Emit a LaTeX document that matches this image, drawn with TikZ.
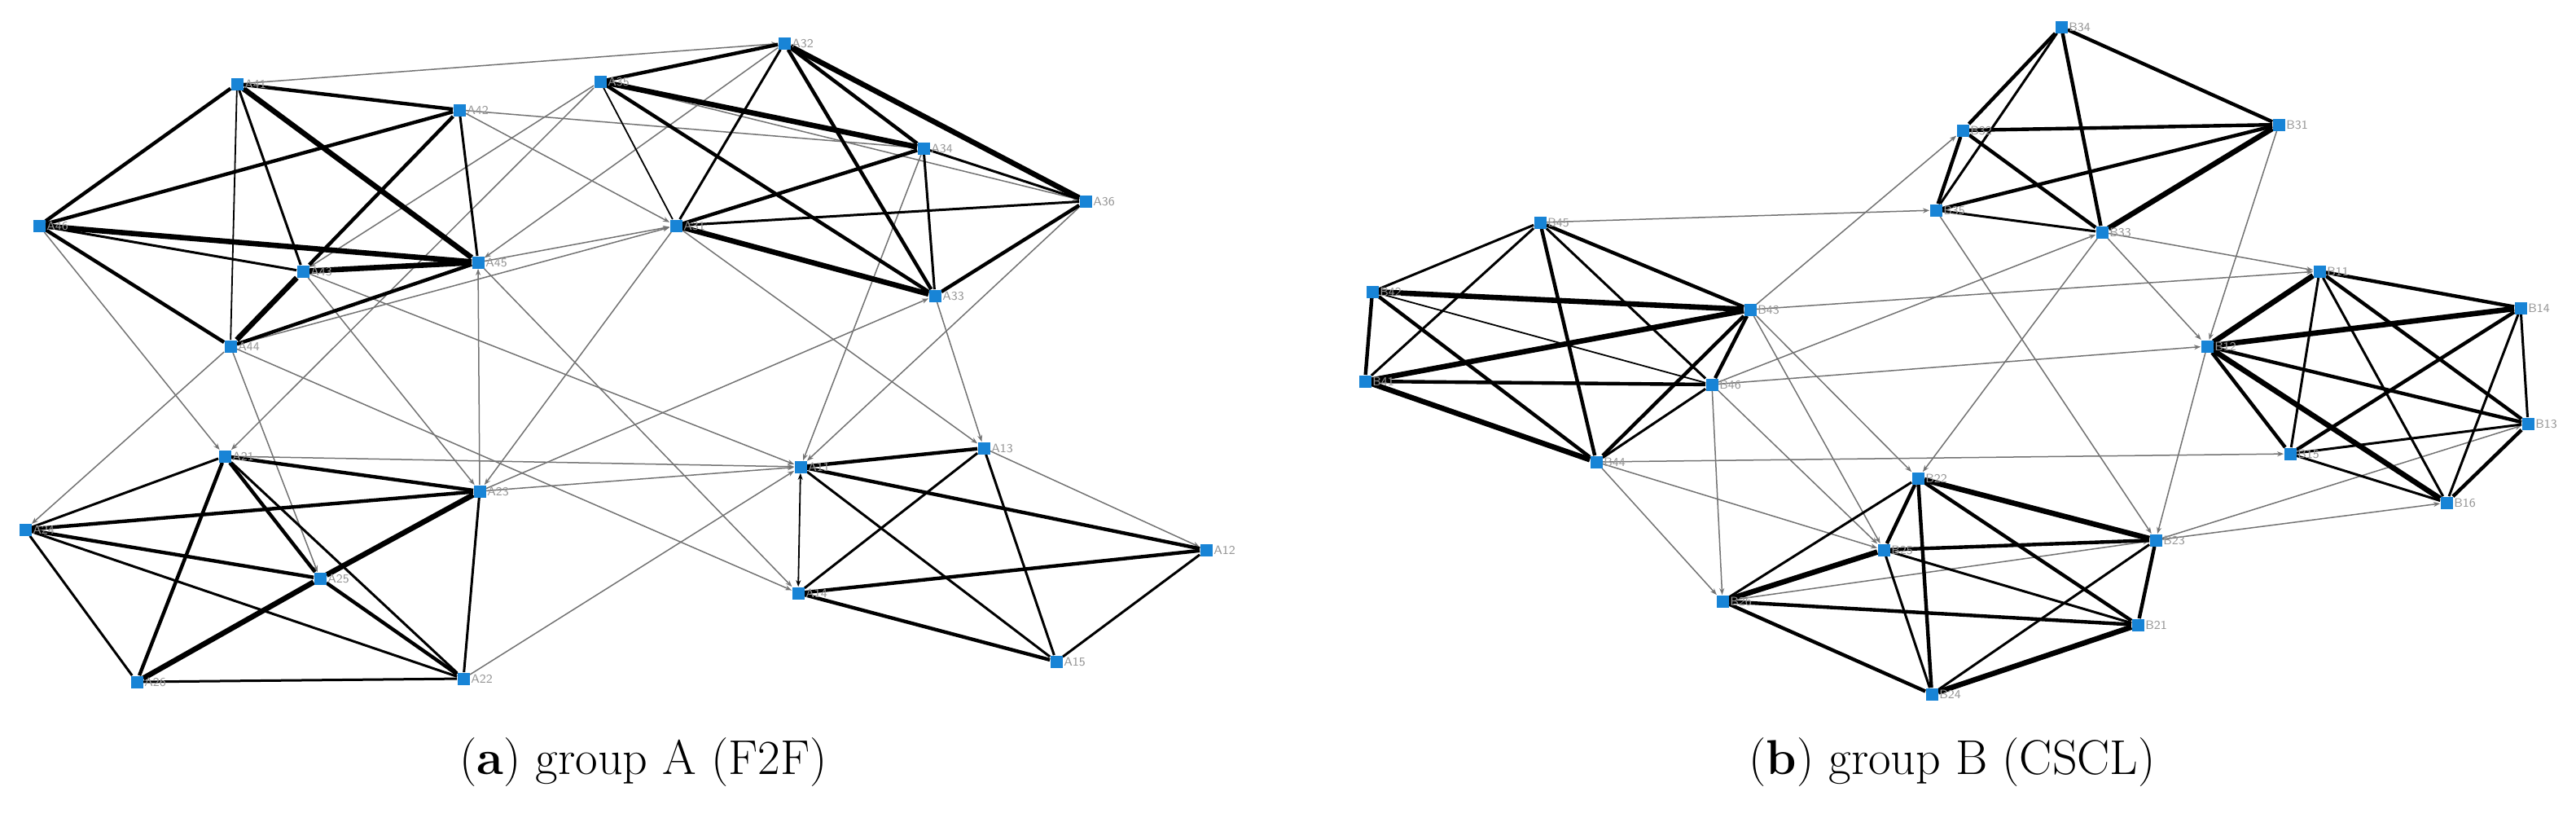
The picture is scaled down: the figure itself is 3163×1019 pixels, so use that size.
\documentclass[tikz,border=0pt]{standalone}
\usetikzlibrary{arrows.meta}
\definecolor{nodeblue}{RGB}{24,132,214}
\definecolor{lblgray}{RGB}{150,150,150}
\pgfdeclarelayer{bg}
\pgfsetlayers{bg,main}
\begin{document}
\begin{tikzpicture}[x=0.5pt,y=-0.5pt,
  nd/.style={rectangle,fill=nodeblue,draw=none,minimum size=7.5pt,inner sep=0pt},
  lbl/.style={text=lblgray,font=\fontsize{7.5}{8}\selectfont\sffamily,inner sep=1pt,xshift=-0.5pt},
  e1/.style={draw=black!55,line width=0.75pt,-{Stealth[length=4pt,width=3pt]}},
  e2/.style={draw=black,line width=0.9pt},
  e3/.style={draw=black,line width=1.5pt},
  e4/.style={draw=black,line width=2.2pt},
  e5/.style={draw=black,line width=3.3pt},
  captxt/.style={font=\fontsize{30}{36}\selectfont,anchor=center}]
\useasboundingbox (0,0) rectangle (3163,1019);
\foreach \n/\x/\y in {A41/291/103, A42/564/135, A35/737/100, A32/963/53, A34/1134/182, A36/1333/247, A31/830/277, A46/48/277, A43/372/333, A45/587/322, A33/1148/363, A44/283/425, A21/276/560, A23/589/603, A24/31/650, A25/393/710, A26/168/837, A22/569/833, A11/983/573, A13/1208/550, A12/1481/675, A14/980/728, A15/1297/812,
 B34/2531/33, B32/2410/160, B31/2798/153, B35/2377/258, B33/2581/285, B45/1891/273, B42/1685/358, B43/2149/380, B41/1676/468, B46/2102/472, B44/1960/567, B11/2848/333, B14/3095/378, B12/2710/425, B13/3104/520, B15/2812/557, B16/3004/617, B22/2355/587, B25/2313/675, B23/2647/663, B26/2115/738, B21/2625/767, B24/2372/852}
  \node[nd,label={[lbl]right:\n}] (\n) at (\x,\y) {};
\begin{pgfonlayer}{bg}
% thin grey connectors
\foreach \a/\b in {A41/A32, A42/A34, A42/A31, A32/A45, A45/A31, A44/A31, A31/A23, A31/A13, A35/A21, A35/A43, A46/A21, A44/A24, A44/A25, A43/A23, A23/A45, A43/A11, A45/A14, A44/A14, A21/A11, A23/A11, A22/A11, A34/A11, A36/A11, A33/A13, A23/A33, A35/A36, A13/A12,
  B45/B35, B43/B32, B43/B11, B43/B22, B43/B25, B46/B12, B46/B33, B46/B26, B46/B25, B44/B15, B44/B26, B44/B25, B33/B22, B33/B12, B33/B11, B31/B12, B12/B23, B35/B23, B23/B16, B23/B13, B26/B23}
  \draw[e1] (\a) -- (\b);
% thin black
\foreach \a/\b in {A41/A44, A35/A31, B42/B46}
  \draw[e2] (\a) -- (\b);
\draw[e2,{Stealth[length=4pt,width=3pt]}-{Stealth[length=4pt,width=3pt]}] (A11) -- (A14);
% medium
\foreach \a/\b in {A41/A43, A42/A45, A46/A43, A32/A31, A31/A36, A34/A33, A34/A36, A21/A24, A21/A22, A23/A22, A24/A26, A24/A22, A26/A22, A11/A15, A13/A14, A13/A15, A12/A15,
  B45/B42, B45/B41, B45/B46, B44/B46, B34/B35, B35/B33, B11/B15, B11/B16, B14/B13, B14/B16, B15/B13, B15/B16, B22/B26, B25/B24, B25/B21, B23/B24}
  \draw[e3] (\a) -- (\b);
% thick
\foreach \a/\b in {A41/A42, A41/A46, A42/A46, A42/A43, A46/A44, A44/A45, A32/A35, A32/A33, A32/A34, A35/A33, A31/A34, A36/A33, A21/A23, A21/A26, A21/A25, A23/A24, A24/A25, A25/A22, A11/A13, A11/A12, A14/A12, A14/A15,
  B45/B44, B45/B43, B42/B41, B42/B44, B41/B46, B43/B44, B43/B46, B34/B32, B34/B31, B34/B33, B32/B31, B32/B35, B32/B33, B35/B31, B11/B14, B11/B13, B12/B13, B12/B15, B14/B15, B13/B16, B22/B25, B22/B24, B22/B21, B25/B23, B26/B21, B26/B24, B23/B21}
  \draw[e4] (\a) -- (\b);
% very thick
\foreach \a/\b in {A41/A45, A46/A45, A43/A45, A43/A44, A32/A36, A35/A34, A31/A33, A23/A25, A25/A26,
  B42/B43, B41/B43, B41/B44, B31/B33, B11/B12, B12/B14, B12/B16, B22/B23, B25/B26, B21/B24}
  \draw[e5] (\a) -- (\b);
\end{pgfonlayer}
\node[captxt] (capa) at (790,936) {(\textbf{a}) group A (F2F)};
\node[captxt] (capb) at (2397,936) {(\textbf{b}) group B (CSCL)};
\end{tikzpicture}
\end{document}
